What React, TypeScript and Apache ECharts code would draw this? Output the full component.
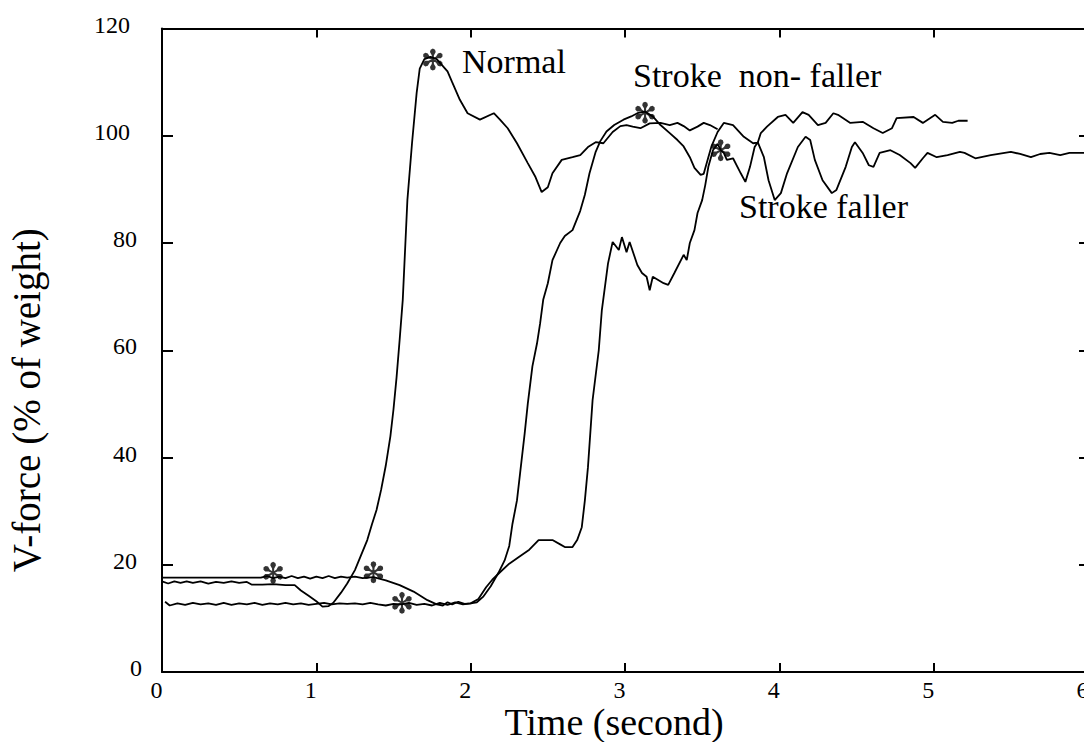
import React, { useEffect, useRef } from "react";
import * as echarts from "echarts";

// ---- Data (time in seconds, vertical force in % of body weight) ----
const xTickValues = [0, 1, 2, 3, 4, 5, 6];
const yTickValues = [0, 20, 40, 60, 80, 100, 120];

const normalData: [number, number][] = [
  [0.0, 16.9], [0.04, 16.5], [0.08, 16.9], [0.12, 16.6], [0.16, 16.9], [0.2, 16.6],
  [0.25, 16.9], [0.3, 16.5], [0.35, 16.8], [0.4, 16.6], [0.45, 16.9], [0.5, 16.6],
  [0.55, 16.8], [0.58, 16.3], [0.65, 16.3], [0.72, 16.4], [0.8, 16.2], [0.86, 16.2],
  [0.9, 15.2], [0.95, 14.2], [1.0, 13.2], [1.04, 12.2], [1.08, 12.3], [1.11, 12.9],
  [1.16, 14.8], [1.2, 16.5], [1.25, 19.0], [1.29, 21.8], [1.33, 24.6], [1.36, 27.5],
  [1.39, 30.2], [1.42, 34.0], [1.45, 38.5], [1.48, 44.0], [1.5, 49.0], [1.52, 55.0],
  [1.54, 62.0], [1.56, 69.4], [1.575, 78.7], [1.59, 88.0], [1.62, 98.6], [1.65, 108.0],
  [1.67, 112.5], [1.7, 114.3], [1.74, 114.7], [1.78, 114.3], [1.82, 113.0], [1.85, 112.0],
  [1.88, 110.0], [1.93, 106.7], [1.98, 104.2], [2.06, 103.0], [2.15, 104.2], [2.19, 103.0],
  [2.24, 101.4], [2.3, 98.6], [2.37, 94.9], [2.42, 92.3], [2.46, 89.5], [2.5, 90.4],
  [2.53, 93.0], [2.59, 95.5], [2.66, 96.0], [2.71, 96.4], [2.76, 97.9], [2.81, 98.8],
  [2.86, 98.6], [2.92, 100.7], [2.97, 101.8], [3.01, 102.0], [3.05, 101.7], [3.1, 101.4],
  [3.16, 102.3], [3.23, 102.4], [3.29, 102.0], [3.34, 102.4], [3.38, 101.8], [3.42, 101.0],
  [3.47, 101.7], [3.51, 102.4], [3.55, 102.0], [3.6, 101.2],
];

const nonFallerData: [number, number][] = [
  [0.0, 17.6], [0.64, 17.6], [0.68, 17.9], [0.72, 17.5], [0.76, 17.8], [0.8, 17.5],
  [0.84, 17.9], [0.88, 17.5], [0.92, 17.8], [0.96, 17.4], [1.0, 17.8], [1.04, 17.5],
  [1.08, 17.9], [1.12, 17.5], [1.16, 17.8], [1.2, 17.6], [1.25, 17.8], [1.3, 17.5],
  [1.37, 17.7], [1.45, 17.1], [1.54, 16.2], [1.63, 15.0], [1.72, 13.4], [1.78, 12.6],
  [1.82, 12.4], [1.85, 13.0], [1.88, 12.6], [1.92, 13.1], [1.96, 12.7], [2.0, 12.8],
  [2.04, 13.0], [2.08, 14.0], [2.13, 16.0], [2.18, 18.5], [2.22, 20.8], [2.25, 23.5],
  [2.27, 27.5], [2.3, 32.0], [2.32, 37.0], [2.35, 44.5], [2.37, 50.0], [2.4, 57.0],
  [2.43, 61.3], [2.45, 65.0], [2.47, 69.4], [2.5, 72.5], [2.53, 76.8], [2.58, 80.0],
  [2.61, 81.3], [2.66, 82.4], [2.71, 86.0], [2.74, 89.0], [2.77, 93.0], [2.81, 97.0],
  [2.84, 99.0], [2.88, 100.8], [2.93, 102.0], [2.99, 103.0], [3.04, 103.6], [3.08, 104.2],
  [3.13, 104.5], [3.18, 103.6], [3.23, 102.0], [3.29, 100.5], [3.34, 99.2], [3.38, 98.0],
  [3.42, 96.0], [3.45, 94.0], [3.49, 92.7], [3.51, 92.9], [3.54, 96.0], [3.56, 98.0],
  [3.6, 100.7], [3.64, 102.4], [3.7, 102.0], [3.77, 99.8], [3.83, 98.6], [3.86, 98.7],
  [3.88, 100.5], [3.92, 101.7], [3.99, 103.5], [4.04, 103.9], [4.09, 102.4], [4.15, 104.4],
  [4.19, 103.9], [4.25, 102.0], [4.3, 102.4], [4.35, 104.2], [4.38, 103.9], [4.46, 102.4],
  [4.54, 102.6], [4.61, 101.4], [4.67, 100.5], [4.73, 101.4], [4.76, 103.3], [4.87, 103.5],
  [4.93, 102.4], [5.01, 103.9], [5.06, 102.6], [5.12, 102.4], [5.16, 102.8], [5.22, 102.8],
];

const fallerData: [number, number][] = [
  [0.02, 13.1], [0.05, 12.4], [0.1, 12.8], [0.15, 12.5], [0.2, 12.9], [0.25, 12.6],
  [0.3, 12.8], [0.35, 12.5], [0.4, 12.9], [0.45, 12.5], [0.5, 12.8], [0.55, 12.6],
  [0.6, 12.9], [0.65, 12.5], [0.7, 12.8], [0.75, 12.6], [0.8, 12.9], [0.85, 12.6],
  [0.9, 12.8], [0.95, 12.5], [1.0, 12.7], [1.05, 12.9], [1.1, 12.6], [1.15, 12.8],
  [1.2, 12.7], [1.25, 12.8], [1.3, 12.6], [1.35, 12.9], [1.4, 12.6], [1.45, 12.4],
  [1.5, 12.7], [1.55, 12.6], [1.6, 12.9], [1.65, 12.5], [1.7, 12.7], [1.75, 12.4],
  [1.8, 12.9], [1.85, 12.5], [1.9, 13.0], [1.95, 12.6], [2.0, 12.8], [2.05, 13.6],
  [2.1, 15.8], [2.14, 17.2], [2.19, 18.6], [2.25, 20.2], [2.31, 21.4], [2.38, 22.8],
  [2.44, 24.6], [2.53, 24.6], [2.58, 23.8], [2.61, 23.3], [2.66, 23.3], [2.69, 24.6],
  [2.72, 27.0], [2.74, 32.0], [2.76, 38.2], [2.79, 50.7], [2.83, 60.0], [2.85, 67.5],
  [2.89, 76.2], [2.92, 80.2], [2.96, 78.7], [2.98, 81.1], [3.01, 78.3], [3.03, 80.2],
  [3.08, 75.9], [3.11, 74.4], [3.14, 73.7], [3.16, 71.2], [3.18, 73.7], [3.25, 72.5],
  [3.28, 72.2], [3.32, 74.4], [3.38, 77.8], [3.4, 76.8], [3.42, 80.0], [3.45, 82.4],
  [3.47, 85.6], [3.5, 88.0], [3.52, 90.8], [3.54, 94.2], [3.57, 97.3], [3.6, 98.5],
  [3.62, 97.3], [3.64, 96.8], [3.66, 95.5], [3.7, 95.8], [3.75, 93.0], [3.78, 91.4],
  [3.81, 94.2], [3.84, 97.9], [3.86, 98.8], [3.9, 96.0], [3.93, 91.7], [3.97, 88.0],
  [4.01, 89.3], [4.05, 93.0], [4.12, 97.9], [4.17, 99.8], [4.2, 99.2], [4.23, 95.5],
  [4.28, 91.7], [4.34, 89.3], [4.37, 89.9], [4.43, 94.2], [4.47, 97.9], [4.49, 98.8],
  [4.54, 96.8], [4.58, 94.5], [4.61, 94.2], [4.65, 96.8], [4.72, 97.3], [4.78, 96.4],
  [4.85, 94.9], [4.88, 94.0], [4.93, 95.8], [4.96, 96.8], [5.02, 96.0], [5.09, 96.4],
  [5.17, 97.0], [5.2, 96.8], [5.27, 95.8], [5.37, 96.4], [5.5, 97.0], [5.56, 96.6],
  [5.63, 96.0], [5.69, 96.6], [5.75, 96.8], [5.82, 96.4], [5.88, 96.8], [5.95, 96.8],
  [6.0, 96.8],
];

// onset and peak events (asterisks)
const eventPoints: [number, number][] = [
  [0.72, 18.5], [1.755, 114.2], [1.37, 18.6], [3.13, 104.3], [1.555, 12.9], [3.62, 97.3],
];

const annotationTexts = ["Normal", "Stroke  non- faller", "Stroke faller"];
const xAxisTitle = "Time (second)";
const yAxisTitle = "V-force (% of weight)";

// ---- Styling helpers ----
const SERIF = "Liberation Serif, Times New Roman, serif";

function asteriskPath(): string {
  const angles = [90, 30, -30, -90, -150, 150];
  const prof: [number, number][] = [
    [0.0, 0.08], [0.4, 0.1], [0.68, 0.26], [0.9, 0.2], [1.0, 0.0],
  ];
  const segs: string[] = [];
  const f = (n: number) => ((n + 1.1) * 10).toFixed(2);
  for (const a of angles) {
    const r = (a * Math.PI) / 180;
    const ux = Math.cos(r);
    const uy = -Math.sin(r);
    const px = -uy;
    const py = ux;
    const left = prof.map(([d, w]) => [ux * d + px * w, uy * d + py * w]);
    const right = prof
      .slice()
      .reverse()
      .map(([d, w]) => [ux * d - px * w, uy * d - py * w]);
    const pts = left.concat(right);
    segs.push("M" + pts.map(([x, y]) => f(x) + " " + f(y)).join(" L") + " Z");
  }
  return "path://" + segs.join(" ");
}

export default function App() {
  const ref = useRef<HTMLDivElement>(null);

  useEffect(() => {
    if (!ref.current) return;
    const chart = echarts.init(ref.current, undefined, { renderer: "svg" });
    const lineStyle = { color: "#000", width: 1.8 };
    const axisLineStyle = { color: "#000", width: 2 };
    const tickFont = { fontSize: 24, fontFamily: SERIF, color: "#000" };

    const option: any = {
      animation: false,
      backgroundColor: "#fff",
      textStyle: { fontFamily: SERIF },
      grid: {
        left: 162,
        top: 28.5,
        width: 926,
        height: 643.5,
        containLabel: false,
        outerBoundsMode: "none",
      },
      xAxis: [
        {
          type: "value",
          min: xTickValues[0],
          max: xTickValues[xTickValues.length - 1],
          interval: 1,
          position: "bottom",
          axisLine: { onZero: false, lineStyle: axisLineStyle },
          axisTick: { inside: true, length: 9, lineStyle: axisLineStyle },
          axisLabel: {
            margin: 6,
            ...tickFont,
            padding: [0, 11, 0, 0],
          },
          splitLine: { show: false },
          name: xAxisTitle,
          nameLocation: "middle",
          nameGap: 31,
          nameMoveOverlap: false,
          nameTextStyle: {
            fontSize: 38,
            color: "#000",
            fontFamily: SERIF,
            padding: [0, 22, 0, 0],
          },
        },
        {
          type: "value",
          min: xTickValues[0],
          max: xTickValues[xTickValues.length - 1],
          interval: 1,
          position: "top",
          axisLine: { onZero: false, lineStyle: axisLineStyle },
          axisTick: { inside: true, length: 9, lineStyle: axisLineStyle },
          axisLabel: { show: false },
          splitLine: { show: false },
        },
      ],
      yAxis: [
        {
          type: "value",
          min: yTickValues[0],
          max: yTickValues[yTickValues.length - 1],
          interval: 20,
          position: "left",
          axisLine: { onZero: false, lineStyle: axisLineStyle },
          axisTick: { inside: true, length: 11, lineStyle: axisLineStyle },
          axisLabel: {
            margin: 20,
            ...tickFont,
            padding: [0, 0, 8, 0],
            formatter: (v: number) => `{d${String(v).length}|${v}}`,
            rich: {
              d1: { ...tickFont },
              d2: { ...tickFont, padding: [0, 5, 0, 0] },
              d3: { ...tickFont, padding: [0, 12, 0, 0] },
            },
          },
          splitLine: { show: false },
          name: yAxisTitle,
          nameLocation: "middle",
          nameRotate: 90,
          nameGap: 116,
          nameMoveOverlap: false,
          nameTextStyle: {
            fontSize: 39,
            color: "#000",
            fontFamily: SERIF,
            padding: [0, 100, 0, 0],
          },
        },
        {
          type: "value",
          min: yTickValues[0],
          max: yTickValues[yTickValues.length - 1],
          interval: 20,
          position: "right",
          axisLine: { onZero: false, lineStyle: axisLineStyle },
          axisTick: { inside: true, length: 9, lineStyle: axisLineStyle },
          axisLabel: { show: false },
          splitLine: { show: false },
        },
      ],
      series: [
        { name: "Normal", type: "line", data: normalData, showSymbol: false, symbol: "none", lineStyle },
        { name: "Stroke non-faller", type: "line", data: nonFallerData, showSymbol: false, symbol: "none", lineStyle },
        { name: "Stroke faller", type: "line", data: fallerData, showSymbol: false, symbol: "none", lineStyle },
        {
          name: "Events",
          type: "scatter",
          data: eventPoints,
          symbol: asteriskPath(),
          symbolSize: 22,
          symbolKeepAspect: true,
          itemStyle: { color: "#000" },
          z: 5,
        },
      ],
      graphic: [
        {
          type: "text",
          left: 462,
          top: 44.5,
          style: { text: annotationTexts[0], font: `34px ${SERIF}`, fill: "#000" },
        },
        {
          type: "text",
          left: 633,
          top: 58.5,
          style: { text: annotationTexts[1], font: `34px ${SERIF}`, fill: "#000" },
        },
        {
          type: "text",
          left: 739,
          top: 189.5,
          style: { text: annotationTexts[2], font: `34px ${SERIF}`, fill: "#000" },
        },
      ],
    };
    chart.setOption(option);
    return () => chart.dispose();
  }, []);

  return (
    <div
      ref={ref}
      style={{ position: "fixed", left: 0, top: 0, width: 1084, height: 742, background: "#fff" }}
    />
  );
}
